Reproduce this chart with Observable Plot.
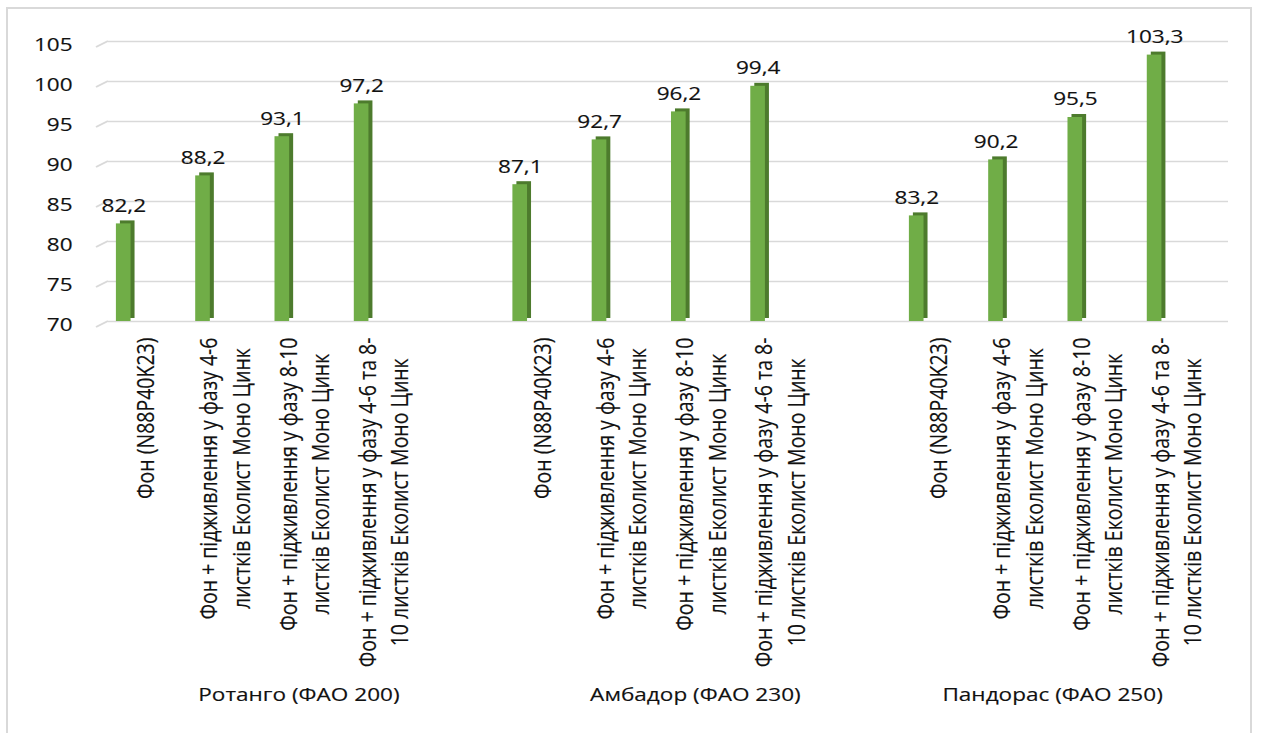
<!DOCTYPE html>
<html>
<head>
<meta charset="utf-8">
<script src="https://cdn.jsdelivr.net/npm/d3@7"></script>
<script src="https://cdn.jsdelivr.net/npm/@observablehq/plot@0.6"></script>
<style>
  html, body { margin: 0; padding: 0; background: #fff; }
  #frame { position: absolute; left: 6px; top: 7px; width: 1246px; height: 760px;
           border: 2px solid #d9d9d9; border-bottom: none; box-sizing: border-box; }
  #chart { position: absolute; left: 0; top: 0; transform: scaleX(1.22); transform-origin: 0 0; }
  #chart text { stroke: #111; stroke-width: 0.15px; }
</style>
</head>
<body>
<div id="frame"></div>
<div id="chart"></div>
<script>
// ---- data ----
const groups = ["Ротанго (ФАО 200)", "Амбадор (ФАО 230)", "Пандорас (ФАО 250)"];
const treatments = [
  "Фон (N88P40K23)",
  "Фон + підживлення у фазу 4-6\nлистків Еколист Моно Цинк",
  "Фон + підживлення у фазу 8-10\nлистків Еколист Моно Цинк",
  "Фон + підживлення у фазу 4-6 та 8-\n10 листків Еколист Моно Цинк"
];
const rotango  = [82.2, 88.2, 93.1, 97.2];
const ambador  = [87.1, 92.7, 96.2, 99.4];
const pandoras = [83.2, 90.2, 95.5, 103.3];
const yTicks = [70, 75, 80, 85, 90, 95, 100, 105];
// category slots: each group followed by one empty slot (Excel blank category)
const groupSlots = [[0, 1, 2, 3], [5, 6, 7, 8], [10, 11, 12, 13]];
const groupSpan = [[0, 4], [5, 9], [10, 13]];
const nSlots = 14;

// ---- build table ----
const series = [rotango, ambador, pandoras];
const data = [];
series.forEach((vals, g) => vals.forEach((v, i) => data.push({
  group: groups[g], treatment: treatments[i], slot: groupSlots[g][i], value: v
})));

// ---- layout ----
const S = 1.22;                 // horizontal stretch of the reference
const W = 1261 / S, H = 733;
const xRange = [78.5 / S, 1198.5 / S];
const step = (xRange[1] - xRange[0]) / nSlots;
const textColor = "#111";
const font = "Open Sans";

const ctx = document.createElement("canvas").getContext("2d");
function maxLen(txt, size) {
  ctx.font = `${size}px "${font}"`;
  return Math.max(...txt.split("\n").map(l => ctx.measureText(l).width));
}

// diagonal (3-D floor/wall) grid segments at the left
function diagonals(index, scales) {
  const g = d3.create("svg:g").attr("stroke", "#d9d9d9").attr("stroke-width", 1.5);
  for (const t of yTicks) {
    const y = scales.y(t);
    g.append("line").attr("x1", 96 / S).attr("y1", y + 6).attr("x2", 108 / S).attr("y2", y);
  }
  return g.node();
}

const labelSize = 19.5;
const rotatedMarks = data.map(d => Plot.text([d], {
  x: "slot", text: "treatment", rotate: -90, frameAnchor: "bottom",
  textAnchor: "middle", lineAnchor: "middle", lineHeight: 1.37,
  fontSize: labelSize, fill: textColor,
  dx: 20 / S, dy: 16 + maxLen(d.treatment, labelSize) / 2
}));

const groupMarks = groups.map((g, i) => {
  const c = (groupSpan[i][0] + groupSpan[i][1]) / 2;
  const base = Math.floor(c);
  return Plot.text([{slot: base, name: g}], {
    x: "slot", text: "name", frameAnchor: "bottom", fontSize: 18.5, fill: textColor,
    dx: (c - base) * step + 16.5 / S, dy: 380
  });
});

const chart = Plot.plot({
  width: W, height: H,
  marginLeft: 108 / S, marginRight: W - 1228 / S, marginTop: 41, marginBottom: H - 321,
  style: {fontFamily: font, background: "transparent", overflow: "visible"},
  x: {type: "band", domain: d3.range(nSlots), range: xRange,
      paddingInner: 0.8125, paddingOuter: 0.40625, align: 0.5, axis: null},
  y: {domain: [70, 105], axis: null},
  marks: [
    Plot.gridY(yTicks, {stroke: "#d9d9d9", strokeOpacity: 1, strokeWidth: 1.5}),
    diagonals,
    Plot.axisY({ticks: yTicks, anchor: "left", tickSize: 0, tickPadding: 36 / S,
                fontSize: 18.5, dy: 4, label: null, fill: textColor}),
    Plot.barY(data, {x: "slot", y1: 70, y2: "value", fill: "#4d7b2d", dx: 4 / S, dy: -3}),
    Plot.barY(data, {x: "slot", y1: 70, y2: "value", fill: "#70ad47"}),
    Plot.text(data, {x: "slot", y: "value", text: d => d.value.toFixed(1).replace(".", ","),
                     fontSize: 18.5, fill: textColor, dy: -18}),
    ...rotatedMarks,
    ...groupMarks
  ]
});
document.getElementById("chart").appendChild(chart);
</script>
</body>
</html>
